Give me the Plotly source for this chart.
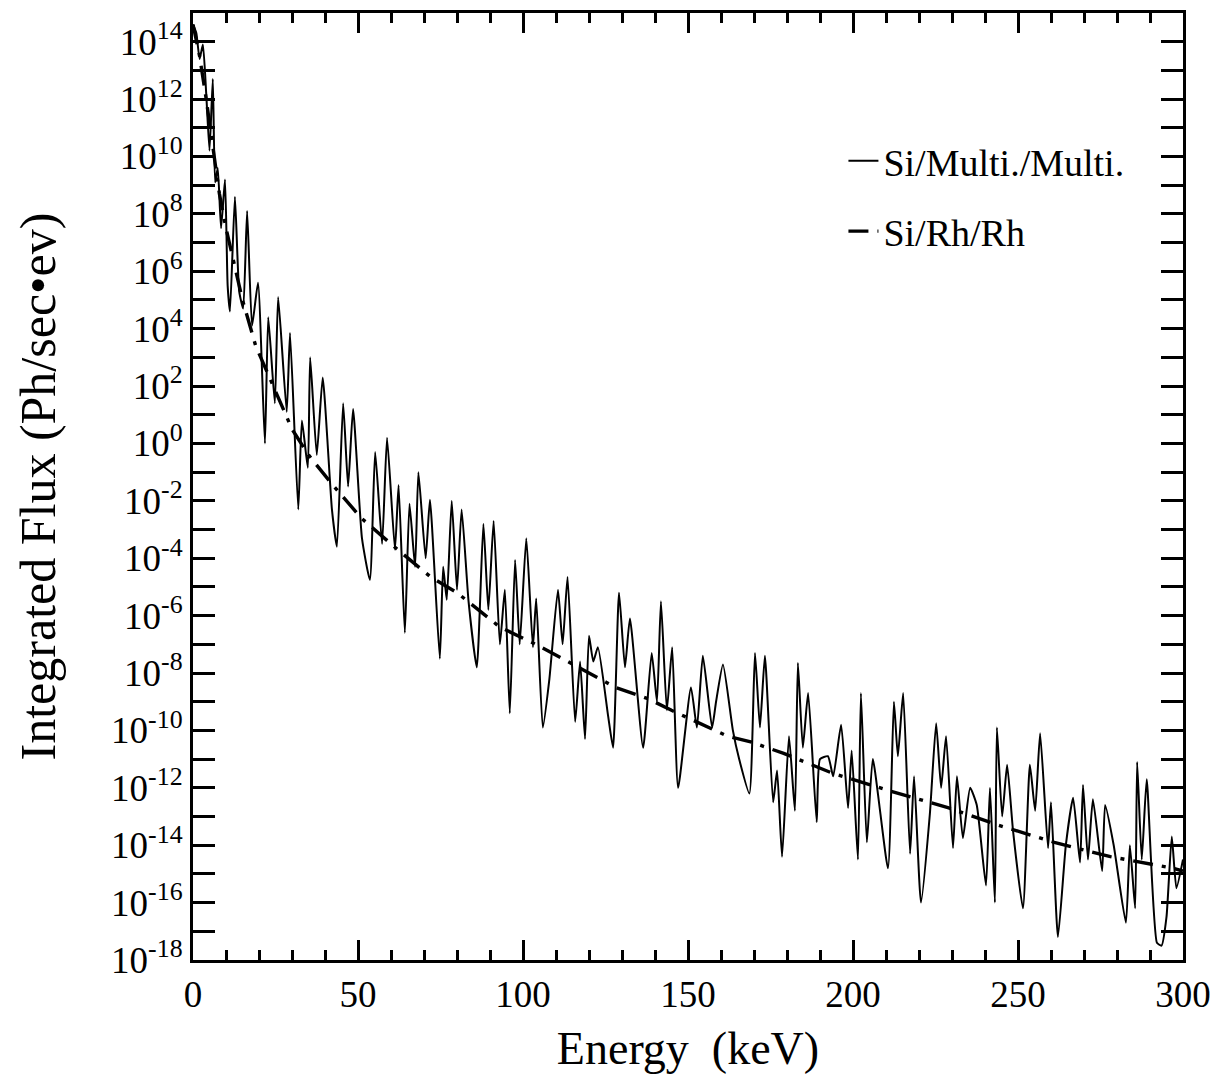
import plotly.graph_objects as go

# ---- Data (energy in keV, flux exponent log10(Ph/sec·eV)) ----
energy_multi = [
    0, 1, 2, 3, 4, 5, 6, 6.7, 7.5, 8.5, 9.7, 10.5, 11.2, 12.7, 14.0, 15.2, 16.4, 17.9, 19.7,
    21.8, 22.8, 24.8, 25.8, 28.4, 29.4, 31.9, 33.0, 34.8, 35.5, 37.5, 39.3, 42.1, 43.6, 45.5,
    47.0, 48.5, 51.2, 53.6, 55.2, 57.3, 58.8, 61.2, 62.3, 64.2, 65.6, 67.3, 68.3, 70.5, 71.8,
    74.8, 75.8, 76.9, 78.4, 80.0, 81.4, 83.5, 86.0, 88.0, 89.5, 91.1, 93.0, 94.5, 96.0, 97.6,
    99.0, 101.0, 103.0, 104.0, 106.0, 108.0, 110.6, 112.0, 113.5, 115.8, 117.3, 118.8, 120.0,
    121.3, 122.7, 125.8, 127.3, 129.1, 130.9, 132.4, 136.4, 139.0, 140.6, 141.8, 143.6, 145.2,
    147.0, 150.9, 152.7, 154.5, 157.3, 158.5, 160.6, 163.6, 165.5, 168.6, 170.3, 171.8, 173.3,
    175.8, 177.0, 178.5, 180.6, 182.4, 183.3, 184.8, 186.4, 189.0, 190.0, 192.4, 194.0, 196.4,
    198.5, 199.6, 201.5, 202.4, 204.2, 206.0, 210.6, 212.4, 213.6, 215.2, 217.3, 218.5, 220.6,
    223.3, 225.2, 226.7, 228.2, 230.3, 231.5, 233.3, 235.5, 237.5, 240.3, 241.5, 243.0, 243.6,
    245.2, 246.7, 248.5, 251.5, 253.6, 255.2, 256.7, 259.1, 260.0, 262.1, 264.5, 266.7, 268.8,
    269.7, 271.2, 272.7, 275.5, 276.4, 279.0, 282.7, 283.9, 285.5, 286.1, 287.5, 289.0, 292.1,
    293.5, 295.0, 296.6, 298.0, 300.0,
]
exponent_multi = [
    14.6, 14.3, 13.4, 13.9, 12.2, 10.2, 12.7, 9.1, 9.6, 7.5, 9.2, 5.5, 4.6, 8.6, 5.3, 4.7, 8.1, 4.1, 5.6,
    0.0, 4.4, 1.4, 5.1, 1.1, 3.85, -2.3, 0.8, -0.85, 3.0, -0.4, 2.3, -2.3, -3.6, 1.4,
    -1.5, 1.2, -3.3, -4.75, -0.3, -3.5, 0.2, -3.7, -1.45, -6.6, -2.1, -4.3, -1.0, -4.0, -1.96,
    -7.5, -4.3, -5.45, -2.0, -5.1, -2.3, -5.5, -7.8, -2.8, -5.8, -2.7, -7.0, -5.1, -9.4, -4.06,
    -7.0, -3.3, -7.1, -5.4, -9.9, -8.2, -5.1, -7.0, -4.65, -9.7, -7.6, -10.3, -6.7,
    -7.6, -7.1, -9.5, -10.6, -5.2, -7.8, -6.1, -10.6, -7.3, -9.0, -5.5, -9.3, -7.1,
    -12.0, -8.5, -9.9, -7.4, -9.9, -9.0, -7.7, -10.0, -11.0, -12.2, -7.3, -9.9, -7.4,
    -12.5, -11.4, -14.4, -10.2, -12.8, -7.65, -10.6, -8.7, -13.2, -11.0, -10.9, -11.6, -9.8,
    -12.7, -10.7, -14.5, -8.7, -13.9, -11.0, -14.8, -9.0, -10.9, -8.7, -14.3, -11.6, -16.0,
    -12.9, -9.75, -12.0, -10.2, -14.1, -11.6, -13.75, -12.0, -12.6, -15.4, -12.0, -16.0, -9.9,
    -13.0, -11.2, -13.5, -16.2, -11.2, -12.8, -10.1, -14.1, -12.5, -17.2, -14.0, -12.35, -14.6,
    -11.9, -14.5, -12.4, -14.9, -12.6, -14.0, -16.7, -14.0, -16.2, -11.1, -14.5, -11.7, -17.4,
    -17.5, -16.5, -13.7, -15.5, -14.5,
]

energy_rh = [0, 2, 4, 6, 8, 10, 15, 19, 25, 30, 35, 42, 51, 62, 72, 80, 93, 103, 112, 128, 138,
             145, 162, 169, 179, 194, 211, 229, 244, 261, 278, 297, 300]
exponent_rh = [14.6, 13.5, 12.0, 10.4, 8.7, 7.5, 5.0, 3.4, 1.8, 0.5, -0.4, -1.4, -2.6, -3.7, -4.65,
               -5.2, -6.4, -6.95, -7.5, -8.5, -8.9, -9.3, -10.2, -10.4, -10.8, -11.5, -12.1, -12.7,
               -13.3, -13.9, -14.4, -14.8, -14.9]

series_names = ["Si/Multi./Multi.", "Si/Rh/Rh"]
x_ticks = [0, 50, 100, 150, 200, 250, 300]
y_exponents = list(range(-18, 15))

flux_multi = [10 ** e for e in exponent_multi]
flux_rh = [10 ** e for e in exponent_rh]

FONT = "Liberation Serif, Times New Roman, serif"

fig = go.Figure()
fig.add_trace(go.Scatter(
    x=energy_multi, y=flux_multi, mode="lines", name=series_names[0],
    line=dict(color="black", width=2, shape="spline", smoothing=0.5),
    legendgroup="a",
))
fig.add_trace(go.Scatter(
    x=energy_rh, y=flux_rh, mode="lines", name=series_names[1],
    line=dict(color="black", width=3.4, dash="20px,9px,4px,9px"),
    legendgroup="b",
))

fig.update_layout(
    width=1211, height=1088,
    margin=dict(l=193, r=28, t=13, b=128),
    paper_bgcolor="white", plot_bgcolor="white",
    font=dict(family=FONT, color="black", size=34),
    showlegend=True,
    legend=dict(
        x=0.657, y=0.877, xanchor="left", yanchor="top",
        bgcolor="rgba(0,0,0,0)", borderwidth=0,
        font=dict(family=FONT, size=38, color="black"),
        traceorder="grouped", tracegroupgap=18,
    ),
)

fig.update_xaxes(
    range=[0, 300], tickmode="array", tickvals=x_ticks,
    ticktext=[str(v) for v in x_ticks],
    ticks="inside", ticklen=20, tickwidth=3, tickcolor="black",
    minor=dict(dtick=10, ticks="inside", ticklen=10, tickwidth=3, tickcolor="black", showgrid=False),
    showline=True, linecolor="black", linewidth=3, mirror="allticks",
    showgrid=False, zeroline=False, automargin=False,
    tickfont=dict(family=FONT, size=37, color="black"),
    title=dict(text="Energy  (keV)", font=dict(family=FONT, size=46, color="black"), standoff=18),
)
fig.update_yaxes(
    type="log", range=[-18, 15],
    tickmode="array", tickvals=[10 ** k for k in y_exponents],
    ticktext=[("10<sup>%d</sup>" % k) if k % 2 == 0 else "" for k in y_exponents],
    ticks="inside", ticklen=22, tickwidth=3, tickcolor="black",
    showline=True, linecolor="black", linewidth=3, mirror="allticks",
    showgrid=False, zeroline=False,
    tickfont=dict(family=FONT, size=37, color="black"),
    title=dict(text="Integrated Flux (Ph/sec•ev)", font=dict(family=FONT, size=50, color="black"), standoff=40),
)

fig.write_html("out.html")
